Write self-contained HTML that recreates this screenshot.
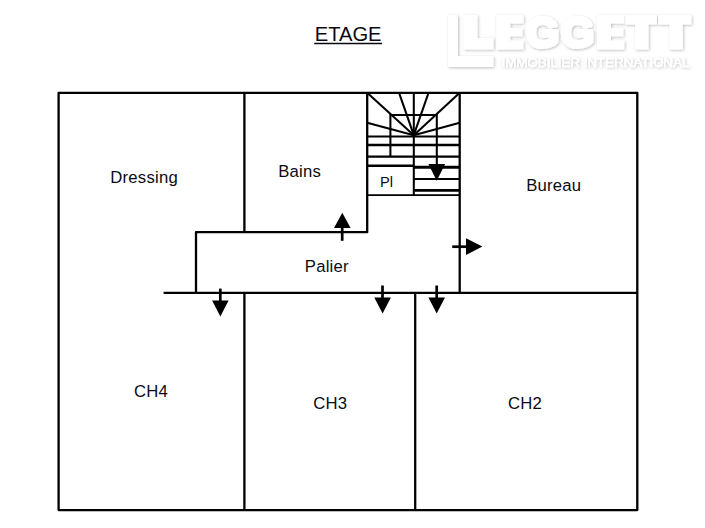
<!DOCTYPE html>
<html>
<head>
<meta charset="utf-8">
<title>ETAGE</title>
<style>
html,body{margin:0;padding:0;background:#fff;}
body{width:705px;height:528px;overflow:hidden;position:relative;font-family:"Liberation Sans",sans-serif;}
svg{position:absolute;left:0;top:0;display:block;}
text{font-family:"Liberation Sans",sans-serif;fill:#0a0a14;}
</style>
</head>
<body>
<svg width="705" height="528" viewBox="0 0 705 528">
  <defs>
    <filter id="sh" x="-5%" y="-20%" width="110%" height="150%">
      <feGaussianBlur in="SourceAlpha" stdDeviation="1.7" result="b"/>
      <feOffset in="b" dx="1.3" dy="1.4" result="o"/>
      <feComponentTransfer in="o" result="s"><feFuncA type="linear" slope="0.26"/></feComponentTransfer>
      <feMerge><feMergeNode in="s"/><feMergeNode in="SourceGraphic"/></feMerge>
    </filter>
  </defs>
  <rect x="0" y="0" width="705" height="528" fill="#ffffff"/>

  <!-- watermark logo -->
  <g filter="url(#sh)" fill="#ffffff" stroke="none">
    <!-- bracket -->
    <path d="M448 15 H458 V56 H493.4 V67 H448 Z"/>
    <!-- L -->
    <path d="M463.8 15 H477.4 V38 H493.4 V49.5 H463.8 Z"/>
    <!-- E -->
    <path d="M496.2 15 H523.5 V23.4 H510.2 V28 H522.5 V36.2 H510.2 V40.6 H523.5 V49.5 H496.2 Z"/>
    <!-- G G -->
    <text x="526.2" y="47.4" font-size="42" font-weight="bold" style="fill:#fff;stroke:#fff;stroke-width:4.2px;stroke-linejoin:round">G</text>
    <text x="561.2" y="47.4" font-size="42" font-weight="bold" style="fill:#fff;stroke:#fff;stroke-width:4.2px;stroke-linejoin:round">G</text>
    <!-- E -->
    <path d="M597 15 H624.3 V23.4 H611 V28 H623.3 V36.2 H611 V40.6 H624.3 V49.5 H597 Z"/>
    <!-- T T -->
    <path d="M625.2 15 H657 V24.4 H648.5 V49.5 H635 V24.4 H625.2 Z"/>
    <path d="M658 15 H691.4 V24.4 H682.8 V49.5 H669.5 V24.4 H658 Z"/>
    <text x="501.5" y="67.4" font-size="12.6" textLength="188" lengthAdjust="spacingAndGlyphs" style="fill:#fff;stroke:#fff;stroke-width:0.3px">IMMOBILIER INTERNATIONAL</text>
  </g>

  <!-- title -->
  <text x="314.7" y="40.5" font-size="19.3" textLength="66.9" lengthAdjust="spacingAndGlyphs">ETAGE</text>
  <line x1="314.2" y1="43.5" x2="382" y2="43.5" stroke="#0a0a14" stroke-width="1.3"/>

  <!-- walls -->
  <g fill="none" stroke="#000" stroke-width="2.3" stroke-linejoin="round" stroke-linecap="butt">
    <path d="M58.6 92.8 H637.3 V510.1 H58.6 Z"/>
    <path d="M244.4 92.7 V232.2"/>
    <path d="M367.2 92.7 V232.2 H196 V292.9"/>
    <path d="M163.6 292.9 H637.3"/>
    <path d="M244.4 292.9 V510.1"/>
    <path d="M415.2 292.9 V510.1"/>
    <path d="M459.7 92.7 V292.9"/>
  </g>

  <!-- staircase -->
  <g fill="none" stroke="#000" stroke-width="2.05" stroke-linecap="butt">
    <!-- fan -->
    <path d="M413.8 135.2 L367.2 92.7"/>
    <path d="M413.8 135.2 L399 92.7"/>
    <path d="M413.8 135.2 L428.6 92.7"/>
    <path d="M413.8 135.2 L459.7 92.7"/>
    <path d="M413.8 135.2 L367.2 122.7"/>
    <path d="M413.8 135.2 L459.7 122.7"/>
    <!-- centre vertical -->
    <path d="M413.8 92.7 V195.2"/>
    <!-- inner rect -->
    <path d="M390.4 156.6 V115 H436.8 V166"/>
    <!-- horizontals -->
    <path d="M367.2 136.5 H459.7"/>
    <path d="M367.2 145 H459.7" stroke-width="2.4"/>
    <path d="M367.2 156.6 H459.7" stroke-width="2.4"/>
    <path d="M367.2 165.8 H413.8" stroke-width="2.4"/>
    <path d="M413.8 167.3 H459.7" stroke-width="2.9"/>
    <path d="M413.8 179 H459.7" stroke-width="1.9"/>
    <path d="M413.8 190.4 H459.7" stroke-width="2.6"/>
    <path d="M367.2 195.2 H459.7" stroke-width="1.7"/>
  </g>
  <polygon points="428.4,164 445.1,164 436.75,180.8" fill="#000"/>
  <text x="380" y="186.7" font-size="14.6">Pl</text>

  <!-- arrows -->
  <g stroke="#000" stroke-width="2.7" fill="none">
    <path d="M220.3 288.6 V302"/>
    <path d="M342.2 240.8 V227"/>
    <path d="M382.5 285.5 V299"/>
    <path d="M436.7 285.5 V299"/>
    <path d="M452.2 246.7 H467"/>
  </g>
  <g fill="#000">
    <polygon points="212.1,300.5 228.6,300.5 220.35,316.6"/>
    <polygon points="334,228.1 350.6,228.1 342.3,212.8"/>
    <polygon points="374.3,297.5 390.9,297.5 382.6,313.6"/>
    <polygon points="428.4,297.5 445,297.5 436.7,313.6"/>
    <polygon points="466,238.3 466,254.9 482.4,246.6"/>
  </g>

  <!-- labels -->
  <g font-size="16.7" letter-spacing="0.22">
    <text x="110.3" y="183.4">Dressing</text>
    <text x="278.2" y="176.5">Bains</text>
    <text x="526.2" y="190.8">Bureau</text>
    <text x="304.8" y="271.6">Palier</text>
    <text x="134" y="397.3">CH4</text>
    <text x="313.3" y="408.5">CH3</text>
    <text x="508" y="408.5">CH2</text>
  </g>
</svg>
</body>
</html>
